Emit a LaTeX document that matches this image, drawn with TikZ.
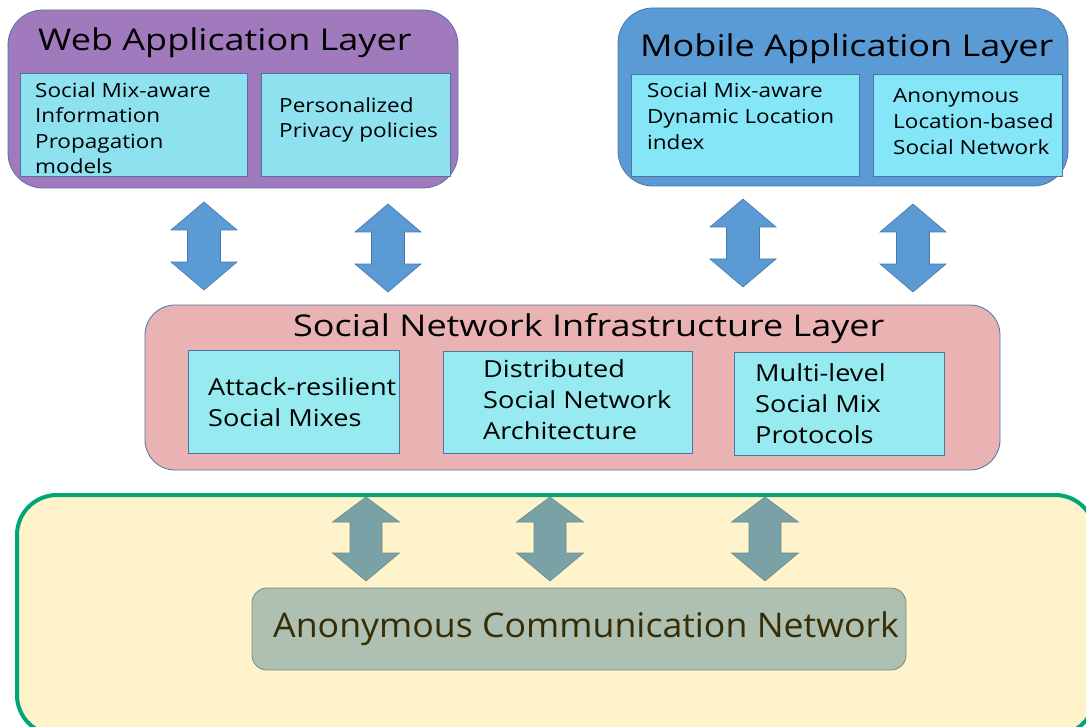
\documentclass[tikz,border=0pt]{standalone}
\usepackage{fontspec}
\setmainfont{Open Sans}
\newfontfamily\wideT[FakeStretch=1.2]{Open Sans}
\newfontfamily\wideS[FakeStretch=1.155]{Open Sans}
\newfontfamily\wideB[FakeStretch=1.05]{Open Sans}
\definecolor{webfill}{RGB}{161,122,190}
\definecolor{mobfill}{RGB}{91,155,213}
\definecolor{pinkfill}{RGB}{234,179,179}
\definecolor{cyanA}{RGB}{142,226,240}
\definecolor{cyanB}{RGB}{132,230,246}
\definecolor{cyanC}{RGB}{150,234,240}
\definecolor{boxline}{RGB}{80,115,165}
\definecolor{arrblue}{RGB}{91,155,213}
\definecolor{arrblueline}{RGB}{70,120,170}
\definecolor{creamfill}{RGB}{255,243,204}
\definecolor{greenline}{RGB}{0,166,120}
\definecolor{arrgray}{RGB}{122,161,165}
\definecolor{arrgrayline}{RGB}{105,140,140}
\definecolor{acnfill}{RGB}{173,192,178}
\definecolor{acnline}{RGB}{120,140,125}
\definecolor{acntext}{RGB}{55,45,5}
\tikzset{
  layer/.style={draw=boxline, line width=0.8pt},
  inner/.style={draw=boxline, line width=0.8pt},
  ttl/.style={anchor=base west, inner sep=0, font=\wideT\fontsize{30}{36}\selectfont},
  smalltxt/.style={anchor=north west, inner sep=0, align=left, font=\wideS\fontsize{19.5}{25.5}\selectfont},
  midtxt/.style={anchor=north west, inner sep=0, align=left, font=\wideS\fontsize{23.5}{31}\selectfont},
  dblarr/.pic={\path[pic actions] (0,0) -- (-33,28) -- (-16.5,28) -- (-16.5,60) -- (-33,60) -- (0,88) -- (33,60) -- (16.5,60) -- (16.5,28) -- (33,28) -- cycle;},
  dblarrb/.pic={\path[pic actions] (0,0) -- (-33.5,25) -- (-16,25) -- (-16,56) -- (-33.5,56) -- (0,84) -- (33.5,56) -- (16,56) -- (16,25) -- (33.5,25) -- cycle;},
}
\begin{document}
\begin{tikzpicture}[x=1pt,y=-1pt]
\useasboundingbox (0,0) rectangle (1086,727);
\clip (0,0) rectangle (1086,727);
% Web application layer
\draw[layer, fill=webfill, rounded corners=35] (8,10) rectangle (458,188);
\node[ttl] (webt) at (38,51) {Web Application Layer};
\draw[inner, fill=cyanA] (20,73) rectangle (247,176);
\draw[inner, fill=cyanA] (261,73) rectangle (450,176);
\node[smalltxt] (w1) at (35,82) {Social Mix-aware\\Information\\Propagation\\models};
\node[smalltxt] (w2) at (279,97) {Personalized\\Privacy policies};
% Mobile application layer
\draw[layer, fill=mobfill, rounded corners=35] (618,8) rectangle (1068,186);
\node[ttl] (mobt) at (640,57) {Mobile Application Layer};
\draw[inner, fill=cyanB] (631,74) rectangle (859,176);
\draw[inner, fill=cyanB] (873,74) rectangle (1062,176);
\node[smalltxt, font=\wideS\fontsize{19.5}{26}\selectfont] (m1) at (647,82) {Social Mix-aware\\Dynamic Location\\index};
\node[smalltxt, font=\wideS\fontsize{19.5}{26}\selectfont] (m2) at (893,88) {Anonymous\\Location-based\\Social Network};
% top arrows
\pic[fill=arrblue, draw=arrblueline, line width=0.6pt] at (204,202) {dblarr};
\pic[fill=arrblue, draw=arrblueline, line width=0.6pt] at (388,204) {dblarr};
\pic[fill=arrblue, draw=arrblueline, line width=0.6pt] at (743,199) {dblarr};
\pic[fill=arrblue, draw=arrblueline, line width=0.6pt] at (913,204) {dblarr};
% Social network infrastructure layer
\draw[layer, fill=pinkfill, rounded corners=30] (145,305) rectangle (1000,470);
\node[ttl] (snt) at (293,336) {Social Network Infrastructure Layer};
\draw[inner, fill=cyanC] (188,350) rectangle (399,453);
\draw[inner, fill=cyanC] (443,351) rectangle (692,453);
\draw[inner, fill=cyanC] (734,352) rectangle (944,455);
\node[midtxt] (s1) at (208,377) {Attack-resilient\\Social Mixes};
\node[midtxt] (s2) at (483,359) {Distributed\\Social Network\\Architecture};
\node[midtxt] (s3) at (755,363) {Multi-level\\Social Mix\\Protocols};
% Anonymous communication network
\draw[draw=greenline, line width=4pt, fill=creamfill, rounded corners=40] (17,495) rectangle (1095,735);
\pic[fill=arrgray, draw=arrgrayline, line width=0.6pt] at (366,497) {dblarrb};
\pic[fill=arrgray, draw=arrgrayline, line width=0.6pt] at (550,497) {dblarrb};
\pic[fill=arrgray, draw=arrgrayline, line width=0.6pt] at (765,497) {dblarrb};
\draw[draw=acnline, line width=0.8pt, fill=acnfill, rounded corners=15] (252,588) rectangle (906,670);
\node[ttl, text=acntext, font=\wideB\fontsize{34}{40}\selectfont] (acn) at (273,637) {Anonymous Communication Network};
\end{tikzpicture}
\end{document}
